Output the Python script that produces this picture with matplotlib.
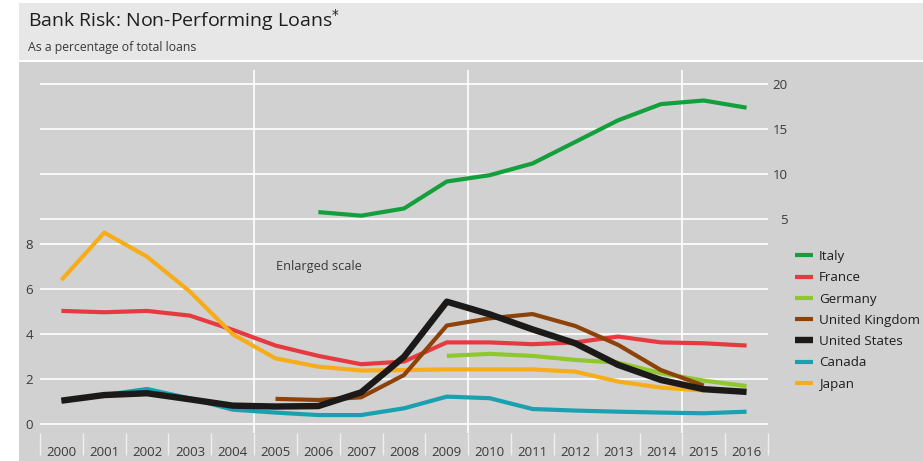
import numpy as np
import matplotlib.pyplot as plt
from matplotlib.patches import Rectangle

plt.rcParams['font.family'] = ['Open Sans', 'DejaVu Sans']

nan = np.nan
years = list(range(2000, 2017))

# Non-performing loans, % of total loans
italy = [nan, nan, nan, nan, nan, nan, 5.8, 5.4, 6.2, 9.2, 9.9, 11.2, 13.6, 16.0, 17.8, 18.2, 17.4]
france = [5.04, 4.98, 5.04, 4.83, 4.2, 3.5, 3.04, 2.67, 2.79, 3.64, 3.64, 3.56, 3.64, 3.9, 3.64, 3.6, 3.5]
germany = [nan, nan, nan, nan, nan, nan, nan, nan, nan, 3.04, 3.13, 3.04, 2.86, 2.74, 2.27, 1.94, 1.7]
uk = [nan, nan, nan, nan, nan, 1.13, 1.08, 1.2, 2.19, 4.39, 4.71, 4.9, 4.37, 3.53, 2.41, 1.72, nan]
us = [1.05, 1.3, 1.38, 1.11, 0.83, 0.79, 0.81, 1.42, 3.0, 5.45, 4.89, 4.22, 3.6, 2.64, 1.97, 1.56, 1.44]
canada = [1.05, 1.3, 1.57, 1.15, 0.65, 0.52, 0.41, 0.41, 0.71, 1.23, 1.16, 0.68, 0.61, 0.56, 0.52, 0.49, 0.56]
japan = [6.41, 8.52, 7.45, 5.9, 4.0, 2.93, 2.56, 2.39, 2.41, 2.44, 2.44, 2.44, 2.34, 1.9, 1.63, 1.5, nan]

c_italy = '#13a03c'
c_france = '#e63a40'
c_germany = '#8fc82a'
c_uk = '#8c4208'
c_us = '#1c1a19'
c_canada = '#1aa1b0'
c_japan = '#f6ad19'

text_col = '#3a3a3a'
bg = '#d1d1d1'

fig = plt.figure(figsize=(9.23, 4.61), dpi=100, facecolor='white')
W, H = 923, 461

# header box and plot panel
fig.patches.append(Rectangle((19 / W, 1 - 60 / H), 1, 57 / H, transform=fig.transFigure,
                             facecolor='#e7e7e7', edgecolor='none', zorder=-10))
fig.patches.append(Rectangle((19 / W, 0), 1, 1 - 62 / H, transform=fig.transFigure,
                             facecolor=bg, edgecolor='none', zorder=-10))

fig.text(28 / W, 1 - 26.5 / H, 'Bank Risk: Non-Performing Loans$^{*}$', fontsize=14,
         color='#1e1e1e', va='baseline')
fig.text(28 / W, 1 - 50.5 / H, 'As a percentage of total loans', fontsize=8.8,
         color=text_col, va='baseline')

left, width = 40 / W, 728 / W
ax_top = fig.add_axes([left, (H - 230) / H, width, 160 / H])
ax = fig.add_axes([left, (H - 433) / H, width, 203 / H], sharex=ax_top)

for a in (ax_top, ax):
    a.set_facecolor('none')
    for s in a.spines.values():
        s.set_visible(False)
    a.grid(axis='y', color='white', lw=1.2)
    a.set_axisbelow(True)
    for xv in (2004.5, 2009.5, 2014.5):
        a.axvline(xv, color='white', lw=1.2, zorder=0.5)

# upper panel: Italy on its own scale
ax_top.set_xlim(1999.5, 2016.5)
ax_top.set_ylim(3.81, 21.59)
ax_top.set_yticks([5, 10, 15, 20])
ax_top.yaxis.tick_right()
ax_top.tick_params(axis='y', length=0, pad=14, labelsize=9.5, labelcolor=text_col)
for lab in ax_top.get_yticklabels():
    lab.set_horizontalalignment('right')
ax_top.tick_params(axis='x', which='both', bottom=False, labelbottom=False)
ax_top.plot(years, italy, color=c_italy, lw=3.0, solid_capstyle='butt', label='Italy')

# lower panel: enlarged scale
ax.set_ylim(-0.387, 8.636)
ax.set_yticks([0, 2, 4, 6, 8])
ax.tick_params(axis='y', length=0, pad=5, labelsize=9.5, labelcolor=text_col)
ax.set_xticks(years)
ax.set_xticks(np.arange(1999.5, 2017, 1), minor=True)
ax.tick_params(axis='x', which='major', length=0, pad=9, labelsize=9.5, labelcolor=text_col)
ax.tick_params(axis='x', which='minor', length=16, width=1.0, color='#f0f0f0', direction='out')

kw = dict(solid_capstyle='butt', clip_on=False)
ax.plot(years, canada, color=c_canada, lw=3.0, zorder=3, **kw)
ax.plot(years, france, color=c_france, lw=3.0, zorder=4, **kw)
ax.plot(years, japan, color=c_japan, lw=3.0, zorder=5, **kw)
ax.plot(years, germany, color=c_germany, lw=3.0, zorder=6, **kw)
ax.plot(years, uk, color=c_uk, lw=3.0, zorder=7, **kw)
ax.plot(years, us, color=c_us, lw=4.6, zorder=8, **kw)

ax.text(2005, 7.0, 'Enlarged scale', fontsize=9.2, color=text_col, va='center', ha='left')

names = ['Italy', 'France', 'Germany', 'United Kingdom', 'United States', 'Canada', 'Japan']
colors = [c_italy, c_france, c_germany, c_uk, c_us, c_canada, c_japan]
handles = [plt.Line2D([], [], color=c, lw=4.6 if n == 'United States' else 3.0,
                      solid_capstyle='butt') for n, c in zip(names, colors)]
fig.legend(handles, names, loc='upper left', bbox_to_anchor=(795 / W, 1 - 250 / H),
           frameon=False, fontsize=9.6, handlelength=1.35, handletextpad=0.45,
           labelspacing=0.62, borderpad=0, borderaxespad=0, labelcolor='#1e1e1e')

fig.savefig('out.png', dpi=100, facecolor=fig.get_facecolor())
